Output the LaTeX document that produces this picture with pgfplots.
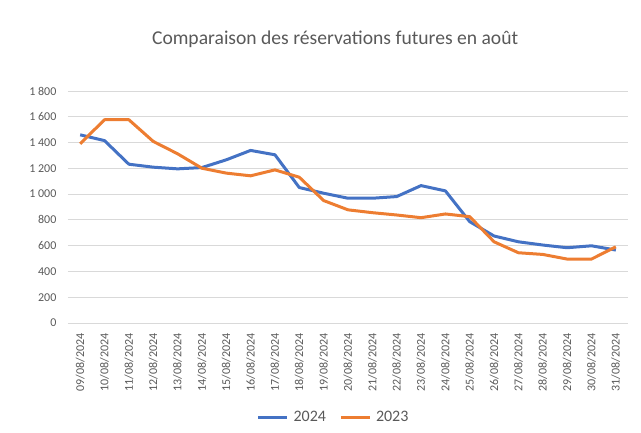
\documentclass[border=0pt]{standalone}
\usepackage{fontspec}
\setmainfont{Carlito}
\usepackage{pgfplots}
\pgfplotsset{compat=1.18}
\definecolor{XlBlue}{HTML}{4472C4}
\definecolor{XlOrange}{HTML}{ED7D31}
\definecolor{TickGray}{HTML}{595959}
\definecolor{GridGray}{HTML}{D9D9D9}

\begin{document}
\begin{tikzpicture}
\begin{axis}[
    scale only axis,
    width=420pt, height=174pt,
    xmin=-0.5, xmax=22.5,
    ymin=0, ymax=1800,
    ytick={0,200,...,1800},
    xtick={0,...,22},
    xticklabels={09/08/2024,10/08/2024,11/08/2024,12/08/2024,13/08/2024,14/08/2024,15/08/2024,16/08/2024,17/08/2024,18/08/2024,19/08/2024,20/08/2024,21/08/2024,22/08/2024,23/08/2024,24/08/2024,25/08/2024,26/08/2024,27/08/2024,28/08/2024,29/08/2024,30/08/2024,31/08/2024},
    /pgf/number format/assume math mode=true,
    /pgf/number format/1000 sep={\ },
    major tick length=0pt,
    ymajorgrids,
    major grid style={draw=GridGray, line width=0.75pt},
    axis line style={draw=none},
    tick label style={font=\fontsize{9}{10}\selectfont, text=TickGray, inner sep=0pt},
    yticklabel style={anchor=east, xshift=-8.5pt},
    xticklabel style={rotate=90, anchor=east},
    xticklabel shift=7.5pt,
    title={Comparaison des réservations futures en août},
    title style={at={(axis description cs:0.477,1.19)}, anchor=center,
                 font=\fontsize{14.7}{16}\selectfont, text=TickGray},
    legend style={at={(axis description cs:0.475,-0.408)}, anchor=center,
                  draw=none, fill=none, legend columns=2,
                  font=\fontsize{12}{13}\selectfont, text=TickGray,
                  /tikz/every odd column/.append style={column sep=1.5pt},
                  /tikz/every even column/.append style={column sep=8pt}},
    legend image code/.code={\draw[#1, line width=2.25pt] (0pt,0pt) -- (21.75pt,0pt);},
    every axis plot/.append style={line width=2.25pt, line join=round, no markers},
    clip=false,
]
\addplot[XlBlue] coordinates {
(0,1460) (1,1415) (2,1232) (3,1209) (4,1196) (5,1206) (6,1266) (7,1339)
(8,1305) (9,1051) (10,1007) (11,968) (12,968) (13,981) (14,1066) (15,1025)
(16,786) (17,675) (18,630) (19,605) (20,584) (21,599) (22,566)};
\addplot[XlOrange] coordinates {
(0,1391) (1,1577) (2,1577) (3,1409) (4,1313) (5,1201) (6,1163) (7,1142)
(8,1188) (9,1131) (10,950) (11,878) (12,856) (13,838) (14,817) (15,846)
(16,825) (17,630) (18,545) (19,532) (20,496) (21,496) (22,591)};
\legend{2024,2023}
\end{axis}
\path[use as bounding box] ([xshift=-51pt, yshift=-81.75pt]current axis.south west) rectangle ++(480.75pt,324pt);
\end{tikzpicture}
\end{document}
